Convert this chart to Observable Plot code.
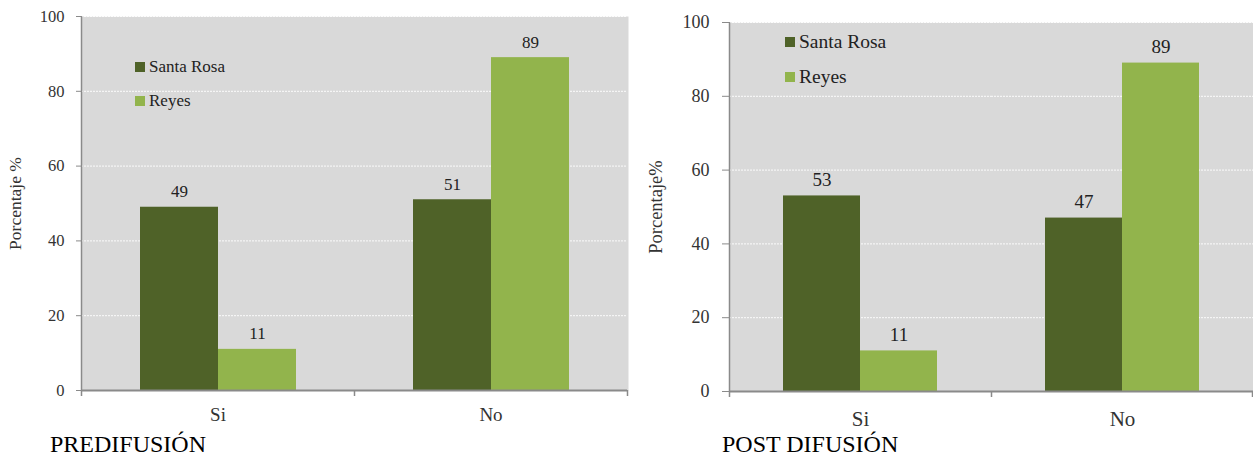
<!DOCTYPE html>
<html><head><meta charset="utf-8">
<script src="https://cdn.jsdelivr.net/npm/d3@7"></script>
<script src="https://cdn.jsdelivr.net/npm/@observablehq/plot@0.6"></script>
<style>
body{margin:0;background:#fff;}
#root{position:relative;width:1253px;height:457px;overflow:hidden;font-family:"Liberation Serif","DejaVu Serif",serif;}
.panel{position:absolute;top:0;}
.title{position:absolute;font-size:24px;color:#000;line-height:1;}
.leg{position:absolute;color:#222;display:flex;align-items:center;line-height:1;}
.leg .sw{display:inline-block;width:10px;height:10px;margin-right:4px;}
</style></head><body><div id="root"></div>
<script>
const categories = ["Si", "No"];
const series = ["Santa Rosa", "Reyes"];
const colors = ["#4f6228", "#92b44c"];
const preSantaRosa = [49, 51];
const preReyes = [11, 89];
const postSantaRosa = [53, 47];
const postReyes = [11, 89];
const yTicks = [0, 20, 40, 60, 80, 100];
const titles = ["PREDIFUSIÓN", "POST DIFUSIÓN"];
const yLabels = ["Porcentaje %", "Porcentaje%"];

const panelValues = [[preSantaRosa, preReyes], [postSantaRosa, postReyes]];
const layouts = [
  {left: 0, width: 640, mt: 16, mr: 13, mb: 67, ml: 81, pad: 0.75, labelOffset: 73, labelSize: 17.5,
   tickSize: 5, tickPad: 12, tickFont: 16.5, catFont: 19, fxPad: 17, valFont: 17, legFont: 17,
   titleX: 50, legX: 135, legY: [67, 101]},
  {left: 640, width: 613, mt: 22, mr: 0, mb: 66, ml: 89, pad: 0.7, labelOffset: 81, labelSize: 18.5,
   tickSize: 7, tickPad: 13, tickFont: 18, catFont: 21, fxPad: 20, valFont: 19, legFont: 19.5,
   titleX: 722, legX: 785, legY: [41, 76]}
];

const root = document.getElementById("root");
const axisGray = "#8a8a8a";
const fontStack = "'Liberation Serif', 'DejaVu Serif', serif";

layouts.forEach((L, p) => {
  const data = [];
  categories.forEach((c, i) => series.forEach((s, j) => data.push({cat: c, series: s, value: panelValues[p][j][i]})));
  const height = 457;
  const plot = Plot.plot({
    width: L.width, height,
    marginLeft: L.ml, marginRight: L.mr, marginTop: L.mt, marginBottom: L.mb,
    style: {fontFamily: fontStack, fontSize: "14px", background: "transparent", color: "#222"},
    fx: {domain: categories, padding: 0},
    x: {domain: series, paddingInner: 0, paddingOuter: L.pad, axis: null},
    y: {domain: [0, 100]},
    color: {domain: series, range: colors},
    marks: [
      Plot.frame({fill: "#d9d9d9", stroke: "none", insetRight: -1}),
      Plot.gridY(yTicks, {stroke: "#ffffff", strokeOpacity: 0.9, strokeWidth: 1, strokeDasharray: "2,1"}),
      Plot.barY(data, {fx: "cat", x: "series", y: "value", fill: "series"}),
      Plot.text(data, {fx: "cat", x: "series", y: "value", text: d => String(d.value), lineAnchor: "bottom", dy: -10, fontSize: L.valFont, fill: "#222"}),
      Plot.ruleY([0], {stroke: axisGray, strokeWidth: 2}),
      Plot.axisY({ticks: yTicks, tickSize: L.tickSize, tickPadding: L.tickPad, stroke: axisGray, fill: "#333", fontSize: L.tickFont,
        label: null}),
      Plot.axisY({ticks: [], tickSize: 0, label: yLabels[p], labelAnchor: "center", labelArrow: "none",
        labelOffset: L.labelOffset, fontSize: L.labelSize, fill: "#333"}),
      Plot.axisFx({anchor: "bottom", tickSize: 0, tickPadding: L.fxPad, label: null, fontSize: L.catFont, fill: "#333"})
    ]
  });
  const div = document.createElement("div");
  div.className = "panel";
  div.style.left = L.left + "px";
  div.appendChild(plot);
  root.appendChild(div);

  // axis line and category boundary ticks from the plot's own scales
  const fx = plot.scale("fx"), y = plot.scale("y");
  const svg = d3.select(plot.tagName.toLowerCase() === "svg" ? plot : plot.querySelector("svg"));
  const x0 = fx.apply(categories[0]);
  const bw = fx.bandwidth;
  const bounds = categories.map(c => fx.apply(c)).concat([fx.apply(categories[categories.length - 1]) + bw]);
  const g = svg.append("g").attr("stroke", axisGray).attr("stroke-width", 1.5);
  g.append("line").attr("x1", x0 + 0.5).attr("x2", x0 + 0.5).attr("y1", y.apply(100)).attr("y2", y.apply(0));
  bounds.forEach(b => {
    const bx = Math.min(b, L.width - 1) + 0.5;
    g.append("line").attr("x1", bx).attr("x2", bx).attr("y1", y.apply(0)).attr("y2", y.apply(0) + 6);
  });

  // title
  const t = document.createElement("div");
  t.className = "title";
  t.textContent = titles[p];
  t.style.left = L.titleX + "px";
  t.style.top = "432px";
  root.appendChild(t);

  // legend
  series.forEach((s, j) => {
    const lg = document.createElement("div");
    lg.className = "leg";
    lg.style.left = L.legX + "px";
    lg.style.top = (L.legY[j] - 9) + "px";
    lg.style.fontSize = L.legFont + "px";
    lg.innerHTML = `<span class="sw" style="background:${colors[j]}"></span><span>${s}</span>`;
    root.appendChild(lg);
  });
});
</script></body></html>
